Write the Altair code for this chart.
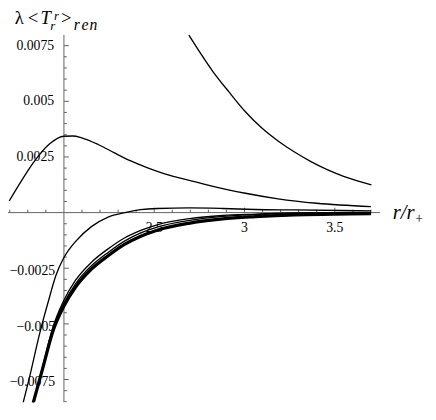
import altair as alt
import pandas as pd

# ---------------- data ----------------
# steep decreasing curve (top right)
R_TOP = [2.692, 2.824, 2.915, 3.005, 3.096, 3.186, 3.277, 3.368, 3.458, 3.549, 3.703]
V_TOP = [7.97e-3, 6.35e-3, 5.41e-3, 4.53e-3, 3.80e-3, 3.22e-3, 2.72e-3, 2.29e-3, 1.93e-3, 1.63e-3, 1.25e-3]

# hump curve
R_HUMP = [1.697, 1.755, 1.826, 1.918, 2.0, 2.05, 2.098, 2.19, 2.28, 2.37, 2.46, 2.554, 2.734,
          2.826, 3.005, 3.186, 3.40, 3.70]
V_HUMP = [0.52e-3, 1.30e-3, 2.19e-3, 3.07e-3, 3.43e-3, 3.44e-3, 3.36e-3, 3.06e-3, 2.68e-3, 2.32e-3,
          2.02e-3, 1.75e-3, 1.37e-3, 1.18e-3, 0.87e-3, 0.62e-3, 0.42e-3, 0.27e-3]

# thin curve that crosses zero
R_A = [1.7554, 1.8098, 1.8641, 1.9185, 1.9549, 2.0, 2.0652, 2.1522, 2.2446, 2.337, 2.4239,
       2.5163, 2.6957, 2.8804, 3.0598, 3.2772, 3.7011]
V_A = [-9.13e-3, -7.38e-3, -5.48e-3, -3.85e-3, -2.84e-3, -2.02e-3, -1.29e-3, -0.63e-3, -0.20e-3,
       0.0, 0.13e-3, 0.185e-3, 0.21e-3, 0.185e-3, 0.14e-3, 0.12e-3, 0.075e-3]

# lower bundle: two thin curves and one thick curve
R_LOW = [1.8098, 1.8832, 1.9402, 2.0, 2.0636, 2.1538, 2.2446, 2.3353, 2.4255, 2.5163, 2.6973,
         2.8788, 3.0598, 3.2772, 3.4946, 3.7011]
V_B = [-9.14e-3, -6.89e-3, -5.12e-3, -3.94e-3, -3.05e-3, -2.22e-3, -1.63e-3, -1.14e-3, -0.80e-3,
       -0.55e-3, -0.27e-3, -0.13e-3, -0.07e-3, -0.012e-3, -0.004e-3, 0.009e-3]
V_C = [-9.14e-3, -6.94e-3, -5.21e-3, -4.07e-3, -3.21e-3, -2.38e-3, -1.79e-3, -1.28e-3, -0.91e-3,
       -0.65e-3, -0.35e-3, -0.17e-3, -0.09e-3, -0.034e-3, -0.017e-3, 0.0]
V_D = [-9.14e-3, -6.98e-3, -5.30e-3, -4.20e-3, -3.36e-3, -2.53e-3, -1.94e-3, -1.43e-3, -1.06e-3,
       -0.79e-3, -0.47e-3, -0.28e-3, -0.18e-3, -0.10e-3, -0.07e-3, -0.044e-3]

# ticks
X_MAJOR = [2.5, 3.0, 3.5]
X_MAJOR_LABELS = ["2.5", "3", "3.5"]
X_MINOR = [1.7, 1.8, 1.9, 2.1, 2.2, 2.3, 2.4, 2.6, 2.7, 2.8, 2.9, 3.1, 3.2, 3.3, 3.4, 3.6, 3.7]
Y_MAJOR_POS = [0.0025, 0.005, 0.0075]
Y_MAJOR_POS_LABELS = ["0.0025", "0.005", "0.0075"]
Y_MAJOR_NEG = [-0.0025, -0.005, -0.0075]
Y_MAJOR_NEG_LABELS = ["\u22120.0025", "\u22120.005", "\u22120.0075"]
Y_MINOR = [-0.0085, -0.008, -0.007, -0.0065, -0.006, -0.0055, -0.0045, -0.004, -0.0035, -0.003,
           -0.002, -0.0015, -0.001, -0.0005, 0.0005, 0.001, 0.0015, 0.002, 0.003, 0.0035, 0.004,
           0.0045, 0.0055, 0.006, 0.0065, 0.007]

# ---------------- layout ----------------
W, H = 428, 398
X_DOM = [1.69022, 4.0163]
Y_DOM = [-0.0085229, 0.0090256]
X_AXIS_END = 3.75
Y_AXIS_TOP = 0.00798
xs = alt.Scale(domain=X_DOM, nice=False, zero=False)
ys = alt.Scale(domain=Y_DOM, nice=False, zero=False)
px_x = W / (X_DOM[1] - X_DOM[0])
px_y = H / (Y_DOM[1] - Y_DOM[0])
AX = "#606060"
SERIF = "Liberation Serif, Times New Roman, serif"


def frame(name, rs, vs):
    return pd.DataFrame({"r": rs, "v": vs, "s": name})


thin = pd.concat([
    frame("A", R_A, V_A), frame("B", R_LOW, V_B), frame("C", R_LOW, V_C),
    frame("E", R_TOP, V_TOP), frame("H", R_HUMP, V_HUMP)
])
thick = frame("D", R_LOW, V_D)

X = lambda f: alt.X(f, scale=xs, axis=None)
Y = lambda f: alt.Y(f, scale=ys, axis=None)
XD = lambda d: alt.XDatum(d, scale=xs, axis=None)
YD = lambda d: alt.YDatum(d, scale=ys, axis=None)

thin_layer = alt.Chart(thin).mark_line(
    clip=True, color="black", strokeWidth=1.35, interpolate="monotone"
).encode(x=X("r:Q"), y=Y("v:Q"), detail="s:N", order="r:Q")

thick_layer = alt.Chart(thick).mark_line(
    clip=True, color="black", strokeWidth=3.3, interpolate="monotone"
).encode(x=X("r:Q"), y=Y("v:Q"), order="r:Q")

one = pd.DataFrame({"k": [0]})
x_axis = alt.Chart(one).mark_rule(color=AX, strokeWidth=1, clip=True).encode(
    x=XD(X_DOM[0]), x2=alt.datum(X_AXIS_END), y=YD(0.0))
y_axis = alt.Chart(one).mark_rule(color=AX, strokeWidth=1, clip=True).encode(
    x=XD(2.0), y=YD(Y_DOM[0]), y2=alt.datum(Y_AXIS_TOP))

xt_major = alt.Chart(pd.DataFrame({"r": X_MAJOR})).mark_rule(color=AX).encode(
    x=X("r:Q"), y=YD(0.0), y2=alt.datum(5 / px_y))
xt_minor = alt.Chart(pd.DataFrame({"r": X_MINOR})).mark_rule(color=AX).encode(
    x=X("r:Q"), y=YD(0.0), y2=alt.datum(3 / px_y))
yt_major = alt.Chart(pd.DataFrame({"v": Y_MAJOR_POS + Y_MAJOR_NEG})).mark_rule(color=AX).encode(
    y=Y("v:Q"), x=XD(2.0), x2=alt.datum(2.0 + 5 / px_x))
yt_minor = alt.Chart(pd.DataFrame({"v": Y_MINOR})).mark_rule(color=AX, clip=True).encode(
    y=Y("v:Q"), x=XD(2.0), x2=alt.datum(2.0 + 3 / px_x))

xl = alt.Chart(pd.DataFrame({"r": X_MAJOR, "t": X_MAJOR_LABELS})).mark_text(
    font=SERIF, fontSize=14, align="center", baseline="alphabetic", dy=20, color="black"
).encode(x=X("r:Q"), y=YD(0.0), text="t:N")

yl_pos = alt.Chart(pd.DataFrame({"v": Y_MAJOR_POS, "t": Y_MAJOR_POS_LABELS})).mark_text(
    font=SERIF, fontSize=14, align="right", baseline="middle", dx=-10, color="black"
).encode(x=XD(2.0), y=Y("v:Q"), text="t:N")
yl_neg = alt.Chart(pd.DataFrame({"v": Y_MAJOR_NEG, "t": Y_MAJOR_NEG_LABELS})).mark_text(
    font=SERIF, fontSize=14, align="right", baseline="middle", dx=-9, dy=3, color="black"
).encode(x=XD(2.0), y=Y("v:Q"), text="t:N")


def label(s, x, y, size, italic=False):
    return alt.Chart(one).mark_text(
        text=s, font=SERIF, fontSize=size, fontStyle="italic" if italic else "normal",
        align="left", baseline="alphabetic", color="black"
    ).encode(x=alt.value(x), y=alt.value(y))


title_parts = [
    label("\u03bb", 7, 13, 19),
    label("<", 20, 13, 19),
    label("T", 33, 13, 19, True),
    label("r", 47, 8, 13, True),
    label("r", 43, 19, 13, True),
    label(">", 54, 13, 19),
    label("r", 67, 19, 16, True),
    label("e", 75, 19, 16, True),
    label("n", 83, 19, 16, True),
]
xlabel_parts = [
    label("r/r", 392, 211, 21, True),
    label("+", 415, 215, 14),
]

chart = alt.layer(
    xl, yl_pos, yl_neg, x_axis, y_axis, xt_major, xt_minor, yt_major, yt_minor,
    thin_layer, thick_layer, *title_parts, *xlabel_parts
).properties(
    width=W, height=H, padding=0, autosize="none", background="white"
).configure_view(stroke=None)

chart.save("out.html", embed_options={"renderer": "svg", "actions": False})
